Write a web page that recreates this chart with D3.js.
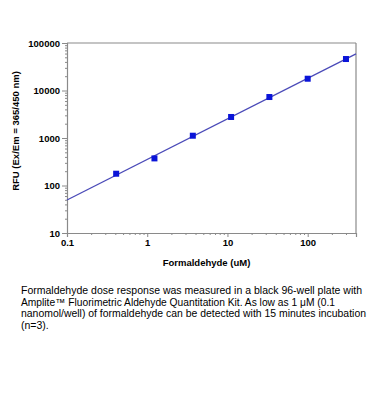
<!DOCTYPE html>
<html><head><meta charset="utf-8">
<script src="https://cdn.jsdelivr.net/npm/d3@7"></script>
<style>html,body{margin:0;padding:0;background:#fff;overflow:hidden}svg{display:block}</style>
</head><body>
<svg id="c" width="368" height="420"></svg>
<script>
const concentrations = [0.41, 1.23, 3.7, 11.1, 33.3, 100, 300];
const rfu = [177, 372, 1117, 2770, 7290, 17700, 46000];
const xTicks = [0.1, 1, 10, 100];
const xTickLabels = ["0.1", "1", "10", "100"];
const yTicks = [10, 100, 1000, 10000, 100000];
const yTickLabels = ["10", "100", "1000", "10000", "100000"];
const xDomain = [0.1, 400];
const yDomain = [10, 100000];
const caption = [
  "Formaldehyde dose response was measured in a black 96-well plate with",
  "Amplite\u2122 Fluorimetric Aldehyde Quantitation Kit. As low as 1 \u03bcM (0.1",
  "nanomol/well) of formaldehyde can be detected with 15 minutes incubation",
  "(n=3)."
];
const captionWidths = [341, 314, 345, null];

const svg = d3.select("#c");
const L = 67, R = 356, T = 43, B = 233;
const x = d3.scaleLog().domain(xDomain).range([L, R]);
const y = d3.scaleLog().domain(yDomain).range([B, T]);
const axisColor = "#8a8a8a";
const font = "'Liberation Sans', Arial, sans-serif";

svg.append("line").attr("x1", L).attr("x2", R).attr("y1", T).attr("y2", T).attr("stroke", axisColor).attr("stroke-width", 1.2);
svg.append("line").attr("x1", R).attr("x2", R).attr("y1", T).attr("y2", B).attr("stroke", axisColor).attr("stroke-width", 1.2);

function minors(dom) {
  const out = [];
  for (let e = Math.floor(Math.log10(dom[0])); e <= Math.ceil(Math.log10(dom[1])); e++) {
    for (let m = 2; m <= 9; m++) {
      const v = m * Math.pow(10, e);
      if (v > dom[0] && v <= dom[1]) out.push(v);
    }
  }
  return out;
}
const xAxis = d3.axisBottom(x).tickValues(xTicks).tickFormat((d, i) => xTickLabels[i]).tickSize(4).tickPadding(2);
const yAxis = d3.axisLeft(y).tickValues(yTicks).tickFormat((d, i) => yTickLabels[i]).tickSize(5).tickPadding(2);
const gx = svg.append("g").attr("transform", `translate(0,${B})`).call(xAxis);
const gy = svg.append("g").attr("transform", `translate(${L},0)`).call(yAxis);
const gxm = svg.append("g").attr("transform", `translate(0,${B})`).call(d3.axisBottom(x).tickValues(minors(xDomain)).tickFormat("").tickSize(2));
const gym = svg.append("g").attr("transform", `translate(${L},0)`).call(d3.axisLeft(y).tickValues(minors(yDomain)).tickFormat("").tickSize(2));
[gx, gy, gxm, gym].forEach(g => {
  g.select(".domain").attr("stroke", axisColor).attr("stroke-width", 1.2);
  g.selectAll(".tick line").attr("stroke", axisColor).attr("stroke-width", 1);
  g.selectAll("text").attr("fill", "#000").style("font", `bold 9.5px ${font}`);
});
gxm.select(".domain").remove();
gym.select(".domain").remove();

const lx = concentrations.map(Math.log10), ly = rfu.map(Math.log10);
const mx = d3.mean(lx), my = d3.mean(ly);
const slope = d3.sum(lx.map((v, i) => (v - mx) * (ly[i] - my))) / d3.sum(lx.map(v => (v - mx) ** 2));
const icpt = my - slope * mx;
const fitX = [xDomain[0], xDomain[1]];
svg.append("path")
  .datum(fitX.map(v => [v, Math.pow(10, icpt + slope * Math.log10(v))]))
  .attr("d", d3.line().x(d => x(d[0])).y(d => y(d[1])))
  .attr("stroke", "#4a4ab8").attr("stroke-width", 1.3).attr("fill", "none");

svg.selectAll("rect.pt").data(concentrations).enter().append("rect")
  .attr("class", "pt")
  .attr("x", (d) => x(d) - 3).attr("y", (d, i) => y(rfu[i]) - 3)
  .attr("width", 6).attr("height", 6).attr("fill", "#0a14d8");

svg.append("text").attr("x", (L + R) / 2 - 5).attr("y", 266).attr("text-anchor", "middle")
  .style("font", `bold 9.5px ${font}`).text("Formaldehyde (uM)");
svg.append("text").attr("transform", `translate(19,${(T + B) / 2 - 7}) rotate(-90)`).attr("text-anchor", "middle")
  .style("font", `bold 9.5px ${font}`).text("RFU (Ex/Em = 365/450 nm)");

svg.selectAll("text.cap").data(caption).enter().append("text")
  .attr("class", "cap").attr("x", 21).attr("y", (d, i) => 294 + i * 11.5)
  .each(function (d, i) { if (captionWidths[i]) d3.select(this).attr("textLength", captionWidths[i]).attr("lengthAdjust", "spacingAndGlyphs"); })
  .style("font", `10.5px ${font}`).attr("fill", "#000").text(d => d);
</script>
</body></html>
